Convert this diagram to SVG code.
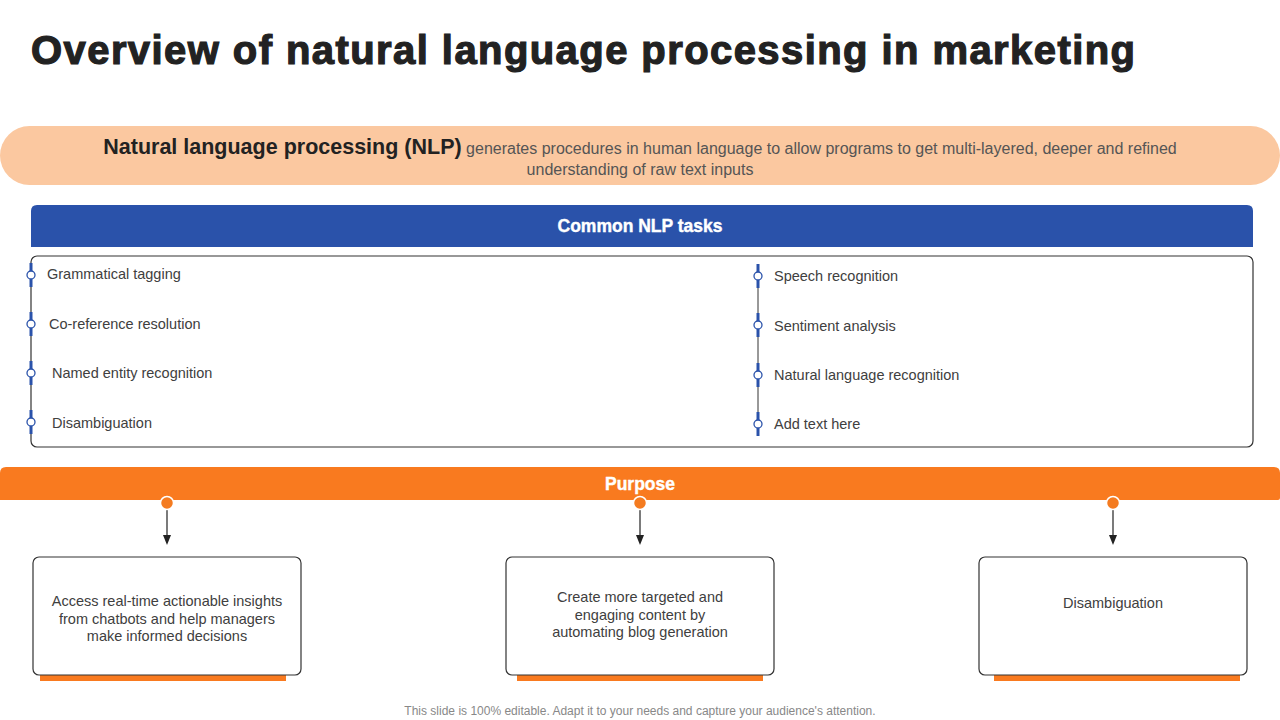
<svg xmlns="http://www.w3.org/2000/svg" width="1280" height="720" viewBox="0 0 1280 720">
<style>
.t{font-family:"Liberation Sans",Arial,sans-serif}
.hd{font-family:"Liberation Sans",Arial,sans-serif;font-size:17.5px;font-weight:bold;fill:#fff;stroke:#fff;stroke-width:0.4;text-anchor:middle}
.item{font-family:"Liberation Sans",Arial,sans-serif;font-size:14.5px;fill:#404040}
.box{fill:#fff;stroke:#333;stroke-width:1.2}
.dot{fill:#fff;stroke:#2A52AA;stroke-width:1.3}
.seg{stroke:#2A52AA;stroke-width:3}
.odot{fill:#F47B20;stroke:#fff;stroke-width:1.5}
.btxt{font-family:"Liberation Sans",Arial,sans-serif;font-size:14.5px;fill:#404040;text-anchor:middle}
</style>
<defs>
<marker id="arr" markerWidth="10" markerHeight="10" refX="5" refY="5" orient="auto" markerUnits="userSpaceOnUse">
<path d="M0,1 L10,5 L0,9 Z" fill="#222"/>
</marker>
</defs>
<rect width="1280" height="720" fill="#fff"/>
<g id="title">
<text class="t" x="31" y="64" font-size="40" font-weight="bold" fill="#222" stroke="#222" stroke-width="1.2" textLength="1104" lengthAdjust="spacing">Overview of natural language processing in marketing</text>
</g>
<g id="intro">
<rect x="0" y="126" width="1280" height="59" rx="29.5" fill="#FBC8A0"/>
<text class="t" x="640" y="154" text-anchor="middle"><tspan font-size="21.5" font-weight="bold" fill="#222">Natural language processing (NLP)</tspan><tspan font-size="16" fill="#555"> generates procedures in human  language to allow programs to get multi-layered,  deeper and refined</tspan></text>
<text class="t" x="640" y="175" text-anchor="middle" font-size="16" fill="#555">understanding  of raw text  inputs</text>
</g>
<g id="tasks-header">
<path d="M31,247 V211 Q31,205 37,205 H1247 Q1253,205 1253,211 V247 Z" fill="#2A52AA"/>
<text class="hd" x="640" y="232">Common NLP tasks</text>
</g>
<g id="tasks-list">
<rect class="box" x="31" y="256" width="1222" height="191" rx="6"/>
<line x1="758" y1="264" x2="758" y2="434" stroke="#333" stroke-width="1"/>
<line class="seg" x1="31" y1="263" x2="31" y2="287"/>
<line class="seg" x1="31" y1="312" x2="31" y2="336"/>
<line class="seg" x1="31" y1="361" x2="31" y2="385"/>
<line class="seg" x1="31" y1="410" x2="31" y2="434"/>
<line class="seg" x1="758" y1="264" x2="758" y2="288"/>
<line class="seg" x1="758" y1="313" x2="758" y2="337"/>
<line class="seg" x1="758" y1="363" x2="758" y2="387"/>
<line class="seg" x1="758" y1="412" x2="758" y2="436"/>
<circle class="dot" cx="31" cy="275" r="4"/>
<circle class="dot" cx="31" cy="324" r="4"/>
<circle class="dot" cx="31" cy="373" r="4"/>
<circle class="dot" cx="31" cy="422" r="4"/>
<circle class="dot" cx="758" cy="276" r="4"/>
<circle class="dot" cx="758" cy="325" r="4"/>
<circle class="dot" cx="758" cy="375" r="4"/>
<circle class="dot" cx="758" cy="424" r="4"/>
<text class="item" x="47" y="279">Grammatical tagging</text>
<text class="item" x="49" y="329">Co-reference resolution</text>
<text class="item" x="52" y="378">Named entity recognition</text>
<text class="item" x="52" y="428">Disambiguation</text>
<text class="item" x="774" y="281">Speech recognition</text>
<text class="item" x="774" y="331">Sentiment analysis</text>
<text class="item" x="774" y="380">Natural language recognition</text>
<text class="item" x="774" y="429">Add text here</text>
</g>
<g id="purpose-header">
<path d="M0,500 V473 Q0,467 6,467 H1274 Q1280,467 1280,473 V498 Q1280,500 1278,500 Z" fill="#F97A1F"/>
<text class="hd" x="640" y="490">Purpose</text>
</g>
<g id="connectors" stroke="#222" stroke-width="1.2">
<line x1="167" y1="509" x2="167" y2="540" marker-end="url(#arr)"/>
<line x1="640" y1="509" x2="640" y2="540" marker-end="url(#arr)"/>
<line x1="1113" y1="509" x2="1113" y2="540" marker-end="url(#arr)"/>
</g>
<g id="connector-dots">
<circle class="odot" cx="167" cy="503" r="6.5"/>
<circle class="odot" cx="640" cy="503" r="6.5"/>
<circle class="odot" cx="1113" cy="503" r="6.5"/>
</g>
<g id="purpose-1">
<rect x="40" y="675" width="246" height="6" fill="#F97A1F"/>
<rect class="box" x="33" y="557" width="268" height="118" rx="6"/>
<text class="btxt" x="167" y="606">Access real-time actionable insights</text>
<text class="btxt" x="167" y="624">from chatbots and help managers</text>
<text class="btxt" x="167" y="641">make informed decisions</text>
</g>
<g id="purpose-2">
<rect x="517" y="675" width="246" height="6" fill="#F97A1F"/>
<rect class="box" x="506" y="557" width="268" height="118" rx="6"/>
<text class="btxt" x="640" y="602">Create more targeted and</text>
<text class="btxt" x="640" y="620">engaging content by</text>
<text class="btxt" x="640" y="637">automating blog generation</text>
</g>
<g id="purpose-3">
<rect x="994" y="675" width="246" height="6" fill="#F97A1F"/>
<rect class="box" x="979" y="557" width="268" height="118" rx="6"/>
<text class="btxt" x="1113" y="608">Disambiguation</text>
</g>
<g id="footer">
<text class="t" x="640" y="715" text-anchor="middle" font-size="12" fill="#888">This slide is 100% editable. Adapt it to your needs and capture your audience's attention.</text>
</g>
</svg>
